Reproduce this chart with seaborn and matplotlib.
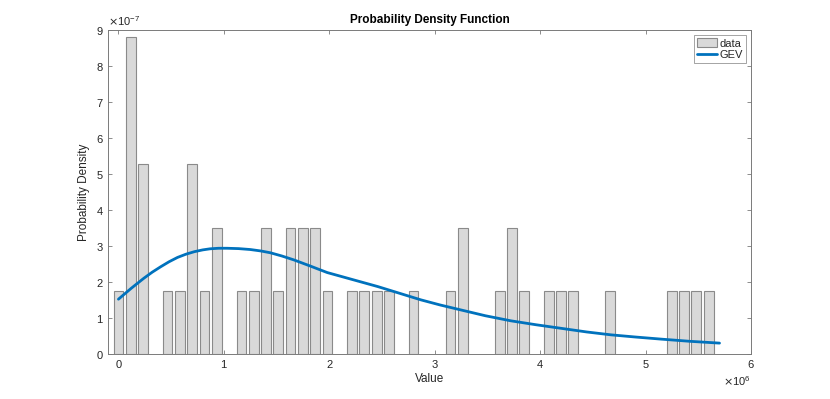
import matplotlib

matplotlib.use("Agg")
import matplotlib.pyplot as plt
import numpy as np
import pandas as pd
import seaborn as sns

# bin centres (x 1e6) and density heights (x 1e-7)
bin_centers = [0.000, 0.117, 0.233, 0.466, 0.583, 0.700, 0.816, 0.933,
               1.166, 1.283, 1.399, 1.516, 1.632, 1.749, 1.866, 1.982,
               2.215, 2.332, 2.449, 2.565, 2.798, 3.148, 3.265, 3.615,
               3.731, 3.848, 4.081, 4.198, 4.314, 4.664, 5.247, 5.364,
               5.480, 5.597]
bin_density = [1.75, 8.79, 5.27, 1.75, 1.75, 5.27, 1.75, 3.51,
               1.75, 1.75, 3.51, 1.75, 3.51, 3.51, 3.51, 1.75,
               1.75, 1.75, 1.75, 1.75, 1.75, 1.75, 3.51, 1.75,
               3.51, 1.75, 1.75, 1.75, 1.75, 1.75, 1.75, 1.75,
               1.75, 1.75]

# fitted GEV curve
gev_x = [0.00, 0.06, 0.12, 0.18, 0.24, 0.32, 0.40, 0.48, 0.56, 0.64, 0.72,
         0.80, 0.87, 0.95, 1.03, 1.14, 1.25, 1.35, 1.44, 1.55, 1.665, 1.82,
         1.98, 2.14, 2.30, 2.46, 2.615, 2.87, 3.05, 3.25, 3.48, 3.72, 3.96,
         4.20, 4.44, 4.67, 4.90, 5.15, 5.42, 5.70]
gev_y = [1.52, 1.67, 1.82, 1.96, 2.10, 2.27, 2.42, 2.56, 2.68, 2.77, 2.84,
         2.89, 2.92, 2.935, 2.935, 2.925, 2.90, 2.86, 2.81, 2.72, 2.61, 2.44,
         2.26, 2.13, 2.00, 1.87, 1.73, 1.50, 1.36, 1.22, 1.06, 0.92, 0.81,
         0.71, 0.61, 0.53, 0.47, 0.41, 0.35, 0.30]

hist_df = pd.DataFrame({
    "value": np.array(bin_centers) * 1e6,
    "density": np.array(bin_density) * 1e-7,
})
gev_df = pd.DataFrame({
    "value": np.array(gev_x) * 1e6,
    "density": np.array(gev_y) * 1e-7,
})

sns.set_style("white")
plt.rcParams["font.family"] = ["Liberation Sans", "DejaVu Sans"]
plt.rcParams["axes.unicode_minus"] = False

text_color = "#262626"
axis_color = "#7a7a7a"

fig = plt.figure(figsize=(8.3, 3.99), dpi=100)
ax = fig.add_axes([0.130, 0.113, 0.775, 0.812])

sns.barplot(
    data=hist_df,
    x="value",
    y="density",
    native_scale=True,
    width=0.8,
    color="#d9d9d9",
    saturation=1,
    edgecolor="#8a8a8a",
    linewidth=0.8,
    errorbar=None,
    label="data",
    ax=ax,
)
sns.lineplot(
    data=gev_df,
    x="value",
    y="density",
    color="#0072BD",
    linewidth=2,
    label="GEV",
    ax=ax,
)
for line in ax.lines:
    line.set_solid_joinstyle("round")

ax.set_xlim(-0.1e6, 6e6)
ax.set_ylim(0, 9e-7)
ax.set_xticks(np.arange(0, 7) * 1e6)
ax.set_yticks(np.arange(0, 10) * 1e-7)
ax.ticklabel_format(style="sci", axis="both", scilimits=(0, 0), useMathText=True)
ax.tick_params(
    direction="in", length=3, width=0.6, colors=axis_color,
    labelsize=8, labelcolor=text_color, top=True, right=True,
    bottom=True, left=True, pad=3,
)
ax.xaxis.get_offset_text().set_fontsize(8)
ax.yaxis.get_offset_text().set_fontsize(8)
ax.xaxis.get_offset_text().set_color(text_color)
ax.yaxis.get_offset_text().set_color(text_color)
for spine in ax.spines.values():
    spine.set_visible(True)
    spine.set_color(axis_color)
    spine.set_linewidth(0.7)

ax.set_title("Probability Density Function", fontsize=8.5, fontweight="bold",
             color="black", pad=5)
ax.set_xlabel("Value", fontsize=8.5, color=text_color, labelpad=2)
ax.set_ylabel("Probability Density", fontsize=8.5, color=text_color, labelpad=4)

handles, labels = ax.get_legend_handles_labels()
order = [labels.index("data"), labels.index("GEV")]
leg = ax.legend([handles[i] for i in order], [labels[i] for i in order],
                loc="upper right", fontsize=8, frameon=True, fancybox=False,
                borderpad=0.25, handlelength=1.8, handleheight=0.9,
                handletextpad=0.2, labelspacing=0.1, borderaxespad=0.5)
leg.get_frame().set_edgecolor("#7a7a7a")
leg.get_frame().set_linewidth(0.6)

fig.savefig("out.png", dpi=100)
plt.close(fig)
